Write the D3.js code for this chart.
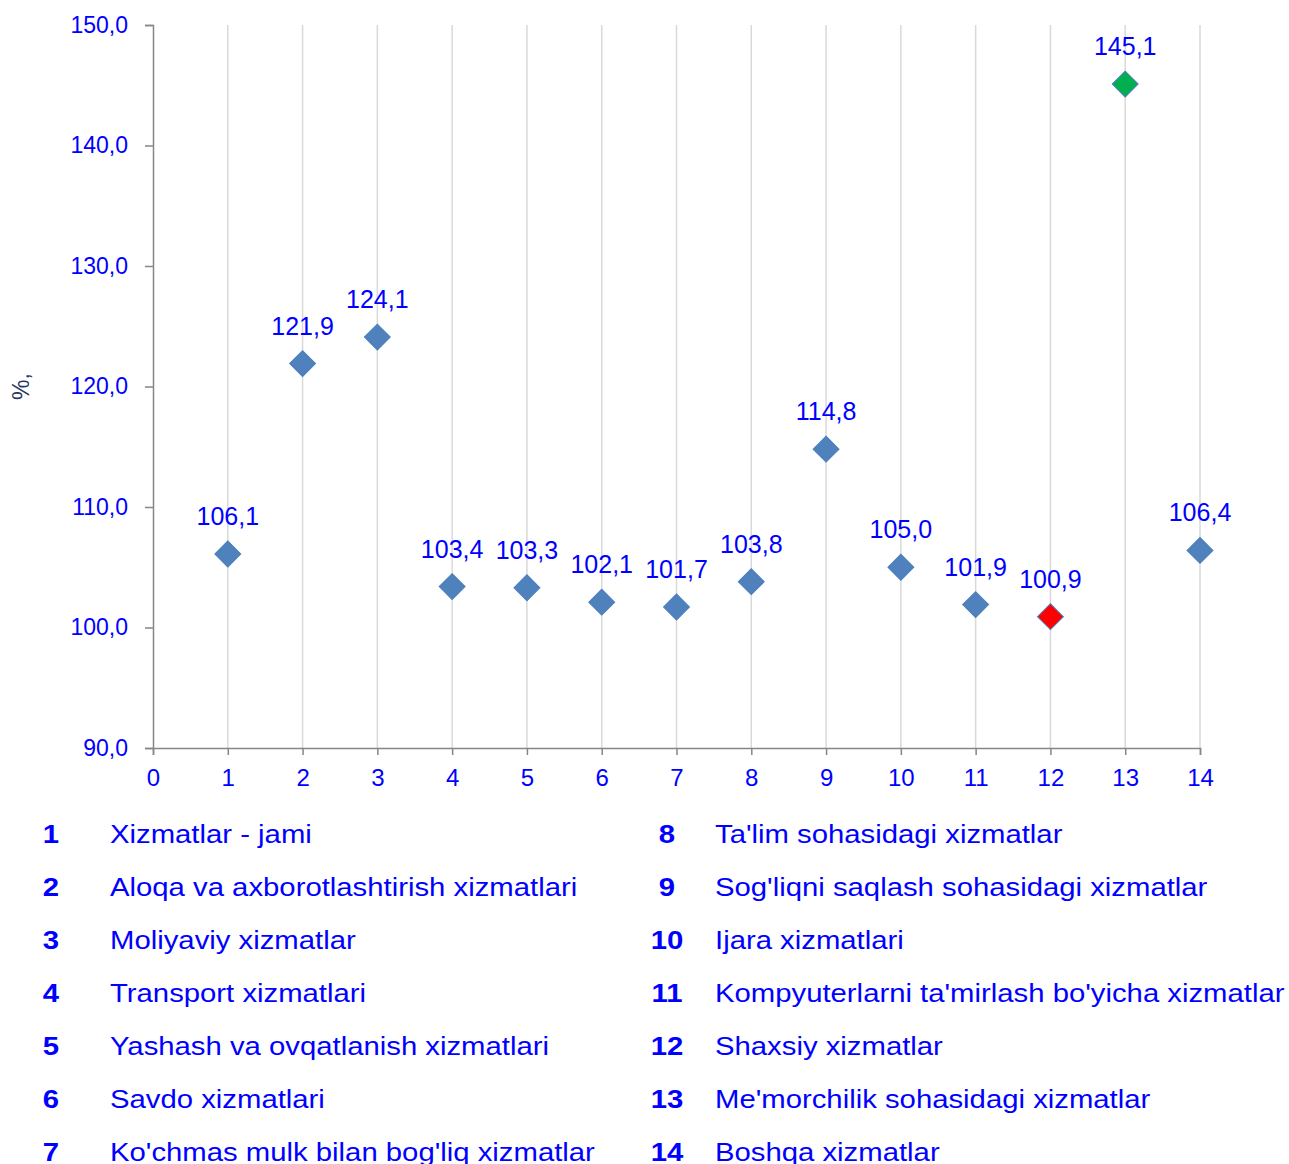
<!DOCTYPE html>
<meta charset="utf-8">
<title>Xizmatlar o'sish sur'ati</title>
<style>
body {
  margin: 0px;
  background: white;
  font-family: "Liberation Sans", Arial, sans-serif;
}
.grid line {
  stroke: #d9d9d9;
  stroke-width: 1.5;
}
.axis path, .axis line {
  stroke: #868686;
  stroke-width: 1.5;
}
.axis text {
  fill: #0000ff;
  font-family: "Liberation Sans", Arial, sans-serif;
}
</style>
<body>
<div id="chart"></div>
<script src="https://d3js.org/d3.v7.min.js"></script>
<script>

// data
var positions = [1, 2, 3, 4, 5, 6, 7, 8, 9, 10, 11, 12, 13, 14];
var values = [106.1, 121.9, 124.1, 103.4, 103.3, 102.1, 101.7, 103.8, 114.8, 105.0, 101.9, 100.9, 145.1, 106.4];
var names = [
  "Xizmatlar - jami",
  "Aloqa va axborotlashtirish xizmatlari",
  "Moliyaviy xizmatlar",
  "Transport xizmatlari",
  "Yashash va ovqatlanish xizmatlari",
  "Savdo xizmatlari",
  "Ko'chmas mulk bilan bog'liq xizmatlar",
  "Ta'lim sohasidagi xizmatlar",
  "Sog'liqni saqlash sohasidagi xizmatlar",
  "Ijara xizmatlari",
  "Kompyuterlarni ta'mirlash bo'yicha xizmatlar",
  "Shaxsiy xizmatlar",
  "Me'morchilik sohasidagi xizmatlar",
  "Boshqa xizmatlar"
];
var yTicks = [90, 100, 110, 120, 130, 140, 150];
var xTicks = [0, 1, 2, 3, 4, 5, 6, 7, 8, 9, 10, 11, 12, 13, 14];

var width = 1289, height = 1164;
var margin = {left: 153, right: 89, top: 25, bottom: 416};

var svg = d3.select("#chart").append("svg")
    .attr("width", width)
    .attr("height", height);

var x = d3.scaleLinear().domain([0, 14]).range([margin.left, width - margin.right]);
var y = d3.scaleLinear().domain([90, 150]).range([height - margin.bottom, margin.top]);

var fmt = function(v) { return d3.format(".1f")(v).replace(".", ","); };

// vertical grid lines
svg.append("g").attr("class", "grid")
  .selectAll("line")
  .data(positions)
  .enter().append("line")
    .attr("x1", function(d) { return x(d); })
    .attr("x2", function(d) { return x(d); })
    .attr("y1", y(150))
    .attr("y2", y(90));

// axes
var yAxis = svg.append("g").attr("class", "axis")
    .attr("transform", "translate(" + x(0) + ",0)")
    .call(d3.axisLeft(y).tickValues(yTicks).tickFormat(fmt).tickSize(8).tickPadding(17));
yAxis.selectAll("text").style("font-size", "23px");

var xAxis = svg.append("g").attr("class", "axis")
    .attr("transform", "translate(0," + y(90) + ")")
    .call(d3.axisBottom(x).tickValues(xTicks).tickFormat(d3.format("d")).tickSize(7).tickPadding(14));
xAxis.selectAll("text").style("font-size", "24px");

svg.append("text")
    .attr("transform", "translate(29," + y(120) + ") rotate(-90)")
    .attr("text-anchor", "middle")
    .style("font-size", "23px")
    .style("fill", "#1f3864")
    .text("%,");

// markers
var data = positions.map(function(p, i) { return {pos: p, value: values[i]}; });
function markerColor(d) {
  if (d.value == d3.max(values)) return "#00b050";
  if (d.value == d3.min(values)) return "#ff0000";
  return "#4f81bd";
}

svg.append("g").selectAll("path")
  .data(data)
  .enter().append("path")
    .attr("d", d3.symbol().type(d3.symbolSquare).size(335))
    .attr("transform", function(d) { return "translate(" + x(d.pos) + "," + y(d.value) + ") rotate(45)"; })
    .style("fill", markerColor)
    .style("stroke", "#4a7ebb")
    .style("stroke-width", 1);

svg.append("g").selectAll("text")
  .data(data)
  .enter().append("text")
    .attr("x", function(d) { return x(d.pos); })
    .attr("y", function(d) { return y(d.value) - 29; })
    .attr("text-anchor", "middle")
    .style("font-size", "25px")
    .style("fill", "#0000ff")
    .text(function(d) { return fmt(d.value); });

// legend in two columns (the original font is a bit wider than Arial)
var stretch = "scale(1.127,1)";
var rowY = d3.scaleLinear().domain([0, 6]).range([843, 1161]);
var legend = svg.append("g").selectAll("g")
  .data(names)
  .enter().append("g")
    .attr("transform", function(d, i) {
      var col = i < 7 ? 0 : 1;
      return "translate(" + (col == 0 ? 51 : 667) + "," + rowY(i % 7) + ")";
    });

legend.append("text")
    .attr("transform", stretch)
    .attr("text-anchor", "middle")
    .style("font-size", "26px")
    .style("font-weight", "bold")
    .style("fill", "#0000ff")
    .text(function(d, i) { return positions[i]; });

legend.append("g")
    .attr("transform", function(d, i) { return "translate(" + (i < 7 ? 59 : 48) + ",0)"; })
  .append("text")
    .attr("transform", stretch)
    .style("font-size", "26px")
    .style("fill", "#0000ff")
    .text(function(d) { return d; });

</script>
</body>
